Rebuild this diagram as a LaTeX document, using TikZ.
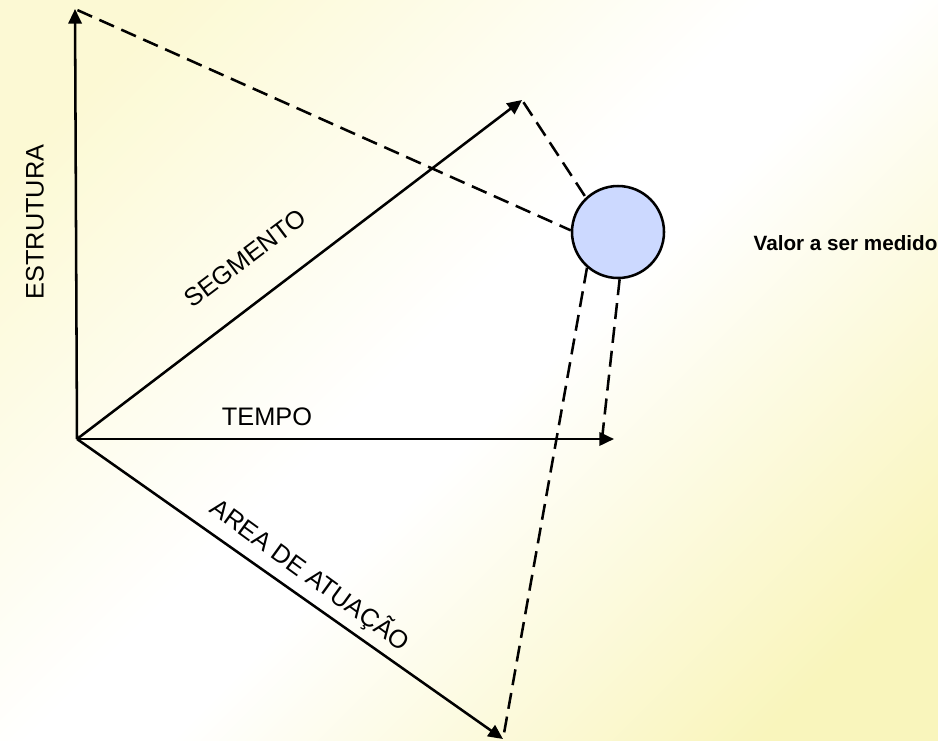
\documentclass[tikz,border=0pt]{standalone}
\usepackage{fontspec}
\setmainfont{Liberation Sans}
\usetikzlibrary{arrows.meta}
\definecolor{fundo}{RGB}{252,249,212}
\definecolor{fundoescuro}{RGB}{249,245,188}
\definecolor{bola}{RGB}{204,217,255}
\pgfdeclareverticalshading{fundoshade}{100bp}{color(0bp)=(fundoescuro); color(22bp)=(fundoescuro); color(47bp)=(white); color(53bp)=(white); color(78bp)=(fundo); color(100bp)=(fundo)}

\begin{document}
\begin{tikzpicture}[x=.75pt,y=-.75pt,every node/.style={font=\fontsize{19}{22}\selectfont},
  eixo/.style={line width=1.9pt,-{Triangle[length=11pt,width=10pt]}},
  proj/.style={line width=1.9pt,dash pattern=on 12pt off 6pt}]
\shade[shading=fundoshade,shading angle=45] (0,0) rectangle (938,740);
\useasboundingbox (0,0) rectangle (938,740);
\coordinate (o) at (77,439);
\coordinate (estr) at (75,9);
\coordinate (seg) at (522,100);
\coordinate (tempo) at (614,439);
\coordinate (area) at (503,739);
\draw[eixo] (o)--(estr);
\draw[eixo] (o)--(seg);
\draw[eixo] (o)--(tempo);
\draw[eixo] (o)--(area);
\node[circle,draw,line width=1.9pt,fill=bola,minimum size=69pt,inner sep=0pt] (valor) at (618,232) {};
\node[anchor=west,font=\bfseries\fontsize{15.5}{18}\selectfont] (rotulo) at (749,243) {Valor a ser medido};
\draw[proj,shorten <=2pt] (estr)--(valor.178);
\draw[proj,shorten <=2pt] (seg)--(valor.133);
\draw[proj] (valor.229)--(area);
\draw[proj] (valor.272)--([xshift=-9pt]tempo);
\node[rotate=90] (lestr) at (35,222) {ESTRUTURA};
\node[rotate=37] (lseg) at (245,258) {SEGMENTO};
\node (ltempo) at (267,417) {TEMPO};
\node[rotate=-36] (larea) at (310,575) {AREA DE ATUAÇÃO};
\end{tikzpicture}
\end{document}
